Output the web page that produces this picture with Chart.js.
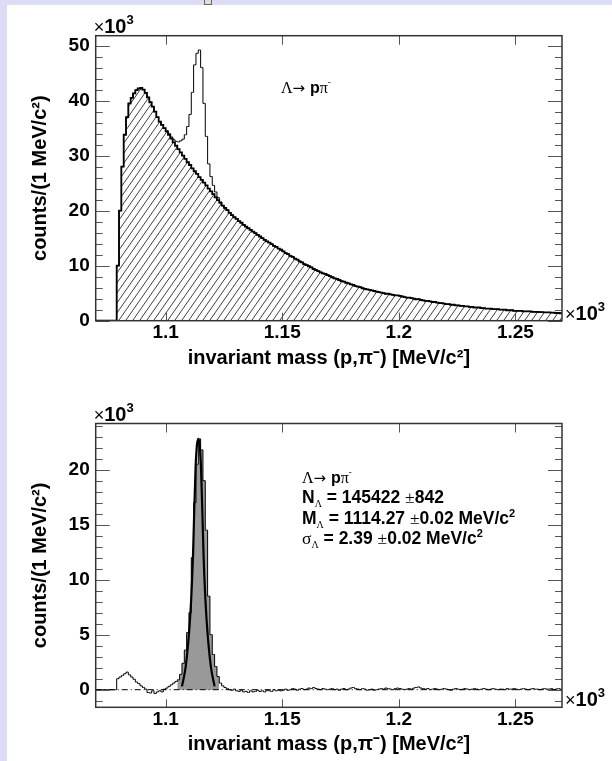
<!DOCTYPE html>
<html>
<head>
<meta charset="utf-8">
<script src="https://cdn.jsdelivr.net/npm/chart.js@4.4.0/dist/chart.umd.min.js"></script>
<style>
  html, body { margin: 0; padding: 0; background: #fff; }
  body { width: 612px; height: 761px; position: relative; overflow: hidden; }
  .edgeL { position: absolute; left: 0; top: 0; width: 7px; height: 761px; background: #dcdcf6; }
  .edgeT { position: absolute; left: 0; top: 0; width: 612px; height: 5px; background: #dcdcf6; }
  .knob { position: absolute; left: 204px; top: 0; width: 6px; height: 4px; background: #ddd; border: 1px solid #666; border-top: 0; }
  #top { position: absolute; left: 0; top: 0; }
  #bot { position: absolute; left: 0; top: 380px; }
</style>
</head>
<body>
<div class="edgeL"></div><div class="edgeT"></div><div class="knob"></div>
<canvas id="top" width="612" height="380"></canvas>
<canvas id="bot" width="612" height="381"></canvas>
<script>
// binning: 1 MeV bins from 1070 to 1270 MeV, axis in units of 10^3 MeV
const HIST_START = 1070;
const BIN_WIDTH = 1;
const X_MIN = 1.07, X_MAX = 1.27;
const xTickValues = [1.1, 1.15, 1.2, 1.25];

// top panel: same-event (total) and mixed-event background, in 10^3 counts per bin
const topYTicks = [0, 10, 20, 30, 40, 50];
const topBackground = [
  0, 0, 0, 0, 0, 0, 0, 0, 0, 10,
  20, 28, 33.8, 37, 39.5, 40.5, 41.3, 41.9, 42.2, 42.3,
  42.0, 41.4, 40.6, 39.7, 38.9, 38.0, 37.0, 36.2, 35.6, 35.0,
  34.4, 33.8, 33.1, 32.4, 31.8, 31.2, 30.6, 30.0, 29.4, 28.8,
  28.3, 27.7, 27.2, 26.7, 26.1, 25.6, 25.1, 24.6, 24.0, 23.5,
  23.0, 22.4, 21.9, 21.4, 20.9, 20.5, 20.1, 19.6, 19.2, 18.8,
  18.5, 18.1, 17.8, 17.4, 17.1, 16.8, 16.5, 16.2, 15.9, 15.6,
  15.3, 15.0, 14.7, 14.4, 14.2, 13.9, 13.6, 13.4, 13.1, 12.9,
  12.6, 12.3, 12.1, 11.8, 11.6, 11.3, 11.1, 10.8, 10.6, 10.3,
  10.1, 9.9, 9.7, 9.4, 9.2, 9.0, 8.8, 8.6, 8.5, 8.3,
  8.1, 7.9, 7.7, 7.6, 7.4, 7.2, 7.1, 6.9, 6.8, 6.6,
  6.5, 6.3, 6.2, 6.1, 5.9, 5.8, 5.7, 5.6, 5.5, 5.4,
  5.3, 5.2, 5.1, 5.0, 4.9, 4.9, 4.8, 4.7, 4.6, 4.6,
  4.5, 4.4, 4.3, 4.2, 4.2, 4.1, 4.0, 3.9, 3.9, 3.8,
  3.7, 3.6, 3.6, 3.5, 3.4, 3.4, 3.3, 3.2, 3.2, 3.1,
  3.0, 3.0, 2.9, 2.9, 2.8, 2.8, 2.7, 2.7, 2.6, 2.6,
  2.5, 2.5, 2.4, 2.4, 2.4, 2.3, 2.3, 2.2, 2.2, 2.2,
  2.1, 2.1, 2.1, 2.0, 2.0, 2.0, 1.9, 1.9, 1.9, 1.8,
  1.8, 1.8, 1.8, 1.7, 1.7, 1.7, 1.7, 1.6, 1.6, 1.6,
  1.55, 1.55, 1.5, 1.5, 1.5, 1.45, 1.45, 1.4, 1.4, 1.35
];
// total counts where it differs from the background (bins 1100..1124 MeV)
const topPeakStart = 1100;
const topPeakTotal = [
  34.5, 34.0, 33.4, 32.9, 32.6, 32.5, 32.7, 33.0, 33.8, 35.3,
  37.5, 41.5, 46.5, 48.6, 49.2, 46.0, 39.5, 33.5, 28.5, 26.2,
  24.6, 23.4, 22.4, 21.6, 20.9
];

// bottom panel: background-subtracted spectrum, 10^3 counts per bin
const botYTicks = [0, 5, 10, 15, 20];
const botSignal = [
  0, 0, 0, 0, 0, 0, 0, 0, 0, 1.0,
  1.15, 1.3, 1.45, 1.6, 1.35, 1.15, 0.95, 0.7, 0.55, 0.35,
  0.2, 0.05, -0.25, -0.3, -0.1, -0.35, -0.2, -0.1, -0.2, 0.05,
  0.15, 0.3, 0.45, 0.6, 0.75, 0.9, 1.4, 2.4, 3.6, 5.2,
  7.0, 12.0, 17.0, 20.5, 22.8, 21.8, 19.0, 14.5, 8.5, 5.0,
  3.2, 2.1, 1.2, 0.6, 0.35, 0.2, 0.1, 0.0, -0.05, 0.05,
  -0.1, -0.15, -0.05, -0.2, -0.15, -0.25, -0.1, -0.2, -0.15, -0.05,
  -0.15, -0.1, -0.2, -0.05, -0.1, -0.15, 0.0, -0.1, -0.05, -0.1,
  -0.05, 0.05, -0.05, 0.0, 0.1, 0.05, -0.05, 0.05, 0.1, 0.0,
  0.05, 0.15, 0.1, 0.2, 0.1, 0.05, 0.0, 0.1, 0.05, 0.0,
  0.05, 0.1, 0.0, 0.05, -0.05, 0.05, 0.1, 0.0, 0.05, 0.15,
  0.2, 0.1, 0.05, 0.0, 0.1, 0.05, -0.05, 0.0, 0.05, -0.05,
  0.0, 0.05, 0.1, 0.05, 0.15, 0.1, 0.05, 0.0, 0.1, 0.15,
  0.1, 0.05, 0.0, 0.05, 0.1, 0.05, 0.15, 0.2, 0.25, 0.15,
  0.1, 0.05, 0.1, 0.0, 0.05, 0.1, 0.05, 0.0, 0.05, 0.1,
  0.05, 0.0, -0.05, 0.05, 0.1, 0.05, 0.0, 0.05, 0.1, 0.05,
  0.0, 0.05, 0.1, 0.05, 0.0, 0.05, 0.1, 0.05, 0.0, 0.05,
  0.1, 0.05, 0.0, 0.05, 0.05, 0.0, 0.1, 0.05, 0.05, 0.1,
  0.05, 0.0, 0.05, 0.1, 0.05, 0.0, 0.05, 0.1, 0.05, 0.05,
  0.0, 0.05, 0.1, 0.05, 0.05, 0.1, 0.0, 0.05, 0.1, 0.05
];
// grey signal window (bins 1105..1122 MeV)
const signalWindow = [1105, 1123];
// gaussian fit curve (MeV, 10^3 counts)
const fitMass   = [1107.0, 1108.6, 1110.05, 1110.95, 1111.7, 1112.1, 1112.8, 1113.4, 1114.0, 1114.6, 1115.2, 1115.9, 1116.3, 1117.05, 1117.95, 1119.4, 1121.0];
const fitCounts = [0.3, 2.1, 5.2, 8.2, 12, 15, 20, 22.2, 22.8, 22.2, 20, 15, 12, 8.2, 5.2, 2.1, 0.3];

const SANS = '"Liberation Sans", Arial, sans-serif';
const SERIF = '"Liberation Serif", "Times New Roman", serif';
const ARROW = '"DejaVu Sans", sans-serif';

// histogram -> points at bin centres (plus the two outer edges) for stepped: 'middle'
function histPoints(vals, firstBin) {
  const pts = [];
  const lo = firstBin / 1000;
  const hi = (firstBin + vals.length * BIN_WIDTH) / 1000;
  pts.push({ x: lo, y: vals[0] });
  vals.forEach((v, i) => pts.push({ x: (firstBin + (i + 0.5) * BIN_WIDTH) / 1000, y: v }));
  pts.push({ x: hi, y: vals[vals.length - 1] });
  return pts;
}

const topTotal = topBackground.map((v, i) => {
  const k = HIST_START + i - topPeakStart;
  return (k >= 0 && k < topPeakTotal.length) ? topPeakTotal[k] : v;
});
const i0 = signalWindow[0] - HIST_START, i1 = signalWindow[1] - HIST_START;
const botWindow = botSignal.slice(i0, i1);

function makeHatch() {
  const c = document.createElement('canvas');
  c.width = 7; c.height = 10;
  const g = c.getContext('2d');
  g.strokeStyle = '#2a2a2a';
  g.lineWidth = 0.9;
  g.beginPath();
  for (let k = -1; k <= 1; k++) {
    g.moveTo(7 * k - 0.7, 11);
    g.lineTo(7 * k + 7.7, -1);
  }
  g.stroke();
  return document.createElement('canvas').getContext('2d').createPattern(c, 'repeat');
}

function drawParts(ctx, x, y, parts) {
  let cx = x;
  parts.forEach(p => {
    ctx.font = p.f;
    ctx.fillText(p.t, cx, y + (p.dy || 0));
    cx += ctx.measureText(p.t).width;
  });
}

const times10 = [
  { t: '\u00d7', f: '18px ' + SANS },
  { t: '10', f: 'bold 20px ' + SANS },
  { t: '3', f: 'bold 13px ' + SANS, dy: -9 }
];

// frame, inward ticks on all four sides, and the text boxes
const rootFrame = {
  id: 'rootFrame',
  afterDraw(chart, args, o) {
    const { ctx, chartArea: a } = chart;
    const xs = chart.scales.x, ys = chart.scales.y;
    ctx.save();
    ctx.strokeStyle = '#555';
    ctx.lineWidth = 1;
    ctx.beginPath();
    xTickValues.forEach(v => {
      const p = Math.round(xs.getPixelForValue(v)) + 0.5;
      ctx.moveTo(p, a.bottom); ctx.lineTo(p, a.bottom - 8);
      ctx.moveTo(p, a.top); ctx.lineTo(p, a.top + 9);
    });
    for (let k = Math.ceil(ys.min / o.minorStep); k * o.minorStep <= ys.max; k++) {
      const v = k * o.minorStep;
      const len = (v % o.majorStep === 0) ? 14 : 7;
      const p = Math.round(ys.getPixelForValue(v)) + 0.5;
      ctx.moveTo(a.left, p); ctx.lineTo(a.left + len, p);
      ctx.moveTo(a.right, p); ctx.lineTo(a.right - len, p);
    }
    ctx.stroke();
    ctx.strokeStyle = '#333';
    ctx.lineWidth = 1.5;
    ctx.strokeRect(a.left, a.top, a.right - a.left, a.bottom - a.top);

    ctx.fillStyle = '#000';
    ctx.textBaseline = 'alphabetic';
    ctx.textAlign = 'left';
    drawParts(ctx, a.left - 2, a.top - 3, times10);
    drawParts(ctx, a.right + 3, a.bottom - 1, times10);
    o.notes.forEach(n => drawParts(ctx, n.x, n.y, n.parts));
    ctx.restore();
  }
};

function axisOptions(yMin, yMax, yTicks, yTitlePad, xHeight, xTitlePad) {
  const tickFont = { family: SANS, size: 19, weight: 'bold' };
  const titleFont = { family: SANS, size: 20, weight: 'bold' };
  return {
    x: {
      type: 'linear', min: X_MIN, max: X_MAX,
      grid: { display: false, drawTicks: false },
      border: { display: false },
      afterBuildTicks: s => { s.ticks = xTickValues.map(value => ({ value })); },
      afterFit: s => { s.height = xHeight; },
      ticks: { color: '#000', font: tickFont, padding: 1, maxRotation: 0, autoSkip: false, callback: v => String(v) },
      title: { display: true, text: 'invariant mass (p,\u03c0\u207b) [MeV/c\u00b2]', color: '#000', font: titleFont, padding: { top: 0, bottom: xTitlePad } }
    },
    y: {
      min: yMin, max: yMax,
      grid: { display: false, drawTicks: false },
      border: { display: false },
      afterBuildTicks: s => { s.ticks = yTicks.map(value => ({ value })); },
      afterFit: s => { s.width = 95.7; },
      ticks: { color: '#000', font: tickFont, padding: 6, callback: v => String(v) },
      title: { display: true, text: 'counts/(1 MeV/c\u00b2)', color: '#000', font: titleFont, padding: { top: yTitlePad, bottom: 0 } }
    }
  };
}

const hatch = makeHatch();

function decayLabel(size) {
  return [
    { t: '\u039b', f: size + 'px ' + SERIF },
    { t: '\u2192 ', f: (size - 1) + 'px ' + ARROW },
    { t: 'p', f: 'bold ' + size + 'px ' + SANS },
    { t: '\u03c0', f: size + 'px ' + SERIF },
    { t: '-', f: '9px ' + SANS, dy: -8 }
  ];
}

new Chart(document.getElementById('top'), {
  type: 'line',
  data: {
    datasets: [
      { data: histPoints(topTotal, HIST_START), stepped: 'middle', borderColor: '#000', borderWidth: 1, pointRadius: 0, fill: false, order: 0 },
      { data: histPoints(topBackground, HIST_START), stepped: 'middle', borderColor: '#000', borderWidth: 1.8, pointRadius: 0, backgroundColor: hatch, fill: 'origin', order: 1 }
    ]
  },
  options: {
    responsive: false, animation: false, events: [],
    layout: { padding: { left: 0, top: 35.7, right: 50, bottom: 0 } },
    plugins: {
      legend: { display: false }, tooltip: { enabled: false },
      rootFrame: {
        minorStep: 2, majorStep: 10,
        notes: [{ x: 281, y: 93, parts: decayLabel(16) }]
      }
    },
    scales: axisOptions(0, 51.8, topYTicks, 28, 380 - 320.7, 10)
  },
  plugins: [rootFrame]
});

const subL = { t: '\u039b', f: '10px ' + SERIF, dy: 4 };
const B17 = 'bold 17.5px ' + SANS;
const R17 = '17.5px ' + SERIF;

new Chart(document.getElementById('bot'), {
  type: 'line',
  data: {
    datasets: [
      { data: fitMass.map((m, i) => ({ x: m / 1000, y: fitCounts[i] })), borderColor: '#000', borderWidth: 2.2, pointRadius: 0, cubicInterpolationMode: 'monotone', fill: false, order: 0 },
      { data: histPoints(botSignal, HIST_START), stepped: 'middle', borderColor: '#000', borderWidth: 1, pointRadius: 0, fill: false, order: 1 },
      { data: [{ x: X_MIN, y: 0 }, { x: X_MAX, y: 0 }], borderColor: '#000', borderWidth: 1, borderDash: [6, 3, 1, 3], pointRadius: 0, fill: false, order: 2 },
      { data: histPoints(botWindow, signalWindow[0]), stepped: 'middle', borderWidth: 0, borderColor: 'rgba(0,0,0,0)', pointRadius: 0, backgroundColor: '#999999', fill: 'origin', order: 3 }
    ]
  },
  options: {
    responsive: false, animation: false, events: [],
    layout: { padding: { left: 0, top: 43.5, right: 50, bottom: 0 } },
    plugins: {
      legend: { display: false }, tooltip: { enabled: false },
      rootFrame: {
        minorStep: 1, majorStep: 5,
        notes: [
          { x: 302, y: 103, parts: decayLabel(16) },
          { x: 302, y: 123, parts: [{ t: 'N', f: B17 }, subL, { t: ' = 145422 ', f: B17 }, { t: '\u00b1', f: R17 }, { t: '842', f: B17 }] },
          { x: 302, y: 143.5, parts: [{ t: 'M', f: B17 }, subL, { t: ' = 1114.27 ', f: B17 }, { t: '\u00b1', f: R17 }, { t: '0.02 MeV/c', f: B17 }, { t: '2', f: 'bold 11px ' + SANS, dy: -7 }] },
          { x: 302, y: 164, parts: [{ t: '\u03c3', f: R17 }, subL, { t: ' = 2.39 ', f: B17 }, { t: '\u00b1', f: R17 }, { t: '0.02 MeV/c', f: B17 }, { t: '2', f: 'bold 11px ' + SANS, dy: -7 }] }
        ]
      }
    },
    scales: axisOptions(-1.6, 24.2, botYTicks, 28, 381 - 327.3, 5)
  },
  plugins: [rootFrame]
});
</script>
</body>
</html>
